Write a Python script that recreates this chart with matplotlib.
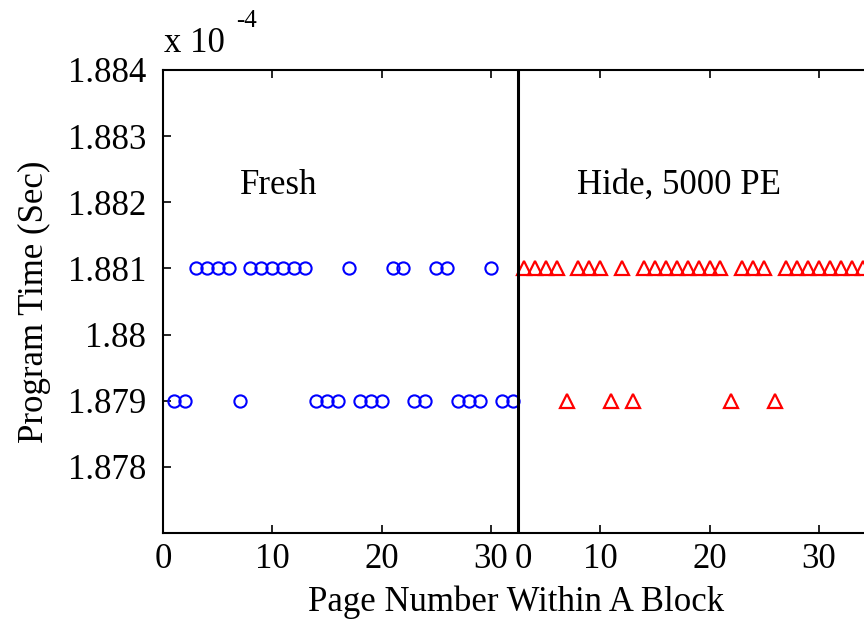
import numpy as np
import matplotlib
matplotlib.use('Agg')
import matplotlib.pyplot as plt

# page numbers, left block = fresh, right block = hidden data after 5000 PE (plotted at page + 32)
fresh_fast = [1, 2, 7, 14, 15, 16, 18, 19, 20, 23, 24, 27, 28, 29, 31, 32]
fresh_slow = [3, 4, 5, 6, 8, 9, 10, 11, 12, 13, 17, 21, 22, 25, 26, 30]
hide_fast = [5, 9, 11, 20, 24]
hide_slow = [1, 2, 3, 4, 6, 7, 8, 10, 12, 13, 14, 15, 16, 17, 18, 19,
             21, 22, 23, 25, 26, 27, 28, 29, 30, 31, 32]
t_fast = 1.879   # x 1e-4 sec
t_slow = 1.881

offset = 32
xtick_pos = [0, 10, 20, 30, 40, 50, 60]
xtick_labels = ['0', '10', '20', '30', '10', '20', '30']
yticks = [1.878, 1.879, 1.880, 1.881, 1.882, 1.883, 1.884]
ytick_labels = ['1.878', '1.879', '1.88', '1.881', '1.882', '1.883', '1.884']

plt.rcParams['font.family'] = ['Liberation Serif', 'DejaVu Serif']
fs = 25

fig = plt.figure(figsize=(8.64, 6.38), dpi=100)
ax = fig.add_axes([163 / 864, 1 - 533 / 638, 710.5 / 864, 463 / 638])

ax.plot(fresh_fast, [t_fast] * len(fresh_fast), 'o', ls='none', mfc='none',
        mec=(0, 0, 1), ms=8.8, mew=1.5)
ax.plot(fresh_slow, [t_slow] * len(fresh_slow), 'o', ls='none', mfc='none',
        mec=(0, 0, 1), ms=8.8, mew=1.5)
ax.plot(np.array(hide_fast) + offset, [t_fast] * len(hide_fast), '^', ls='none',
        mfc='none', mec=(1, 0, 0), ms=10.5, mew=1.6)
ax.plot(np.array(hide_slow) + offset, [t_slow] * len(hide_slow), '^', ls='none',
        mfc='none', mec=(1, 0, 0), ms=10.5, mew=1.6)

ax.axvline(offset + 0.5, color='k', lw=2.2)

ax.set_xlim(0, 65)
ax.set_ylim(1.877, 1.884)
ax.set_xticks(xtick_pos, xtick_labels)
ax.set_xticks([offset + 1], ['0'], minor=True)
ax.set_yticks(yticks, ytick_labels)
ax.tick_params(which='major', direction='in', length=6, width=1.2, labelsize=fs,
               top=True, right=True, pad=7)
ax.tick_params(which='minor', length=0, labelsize=fs, pad=7)
ax.tick_params(axis='y', pad=12)
for s in ax.spines.values():
    s.set_linewidth(1.5)

ax.text(7, 1.88226, 'Fresh', fontsize=fs, va='center', ha='left')
ax.text(37.9, 1.88226, 'Hide, 5000 PE', fontsize=fs, va='center', ha='left')

ax.set_xlabel('Page Number Within A Block', fontsize=fs)
ax.xaxis.set_label_coords(0.497, -0.113)
ax.set_ylabel('Program Time (Sec)', fontsize=fs)
ax.yaxis.set_label_coords(-0.158, 0.5)

fig.text(164 / 864, 1 - 52 / 638, 'x 10', fontsize=fs, va='baseline', ha='left')
fig.text(236 / 864, 1 - 27 / 638, '-4', fontsize=18, va='baseline', ha='left')

fig.savefig('out.png', dpi=100)
